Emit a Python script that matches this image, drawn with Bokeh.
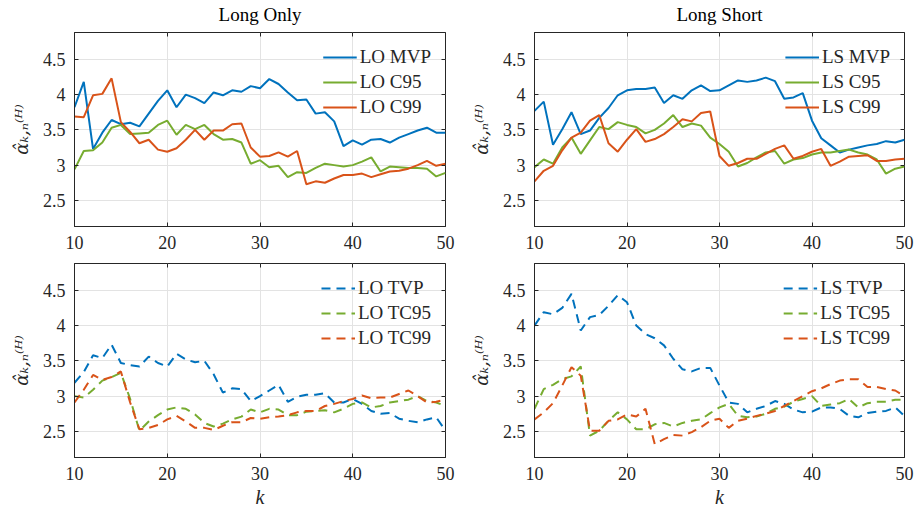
from bokeh.plotting import figure
from bokeh.layouts import column, row
from bokeh.models import (Legend, LegendItem, FixedTicker, NumeralTickFormatter,
                          LinearAxis, Range1d)
from bokeh.embed import file_html
from bokeh.resources import INLINE

k = list(range(10, 51))

lo_mvp = [3.82, 4.18, 3.23, 3.46, 3.64, 3.58, 3.60, 3.55, 3.73, 3.91, 4.06, 3.82, 4.00, 3.95,
          3.88, 4.03, 3.99, 4.06, 4.04, 4.12, 4.09, 4.22, 4.15, 4.03, 3.92, 3.93, 3.73, 3.75,
          3.62, 3.27, 3.35, 3.29, 3.36, 3.37, 3.32, 3.39, 3.44, 3.49, 3.53, 3.46, 3.46]
lo_c95 = [2.94, 3.20, 3.21, 3.32, 3.53, 3.57, 3.44, 3.45, 3.46, 3.57, 3.63, 3.43, 3.57, 3.51,
          3.57, 3.44, 3.36, 3.37, 3.32, 3.02, 3.07, 2.97, 2.99, 2.83, 2.90, 2.89, 2.96, 3.02,
          3.00, 2.98, 3.00, 3.05, 3.11, 2.91, 2.98, 2.97, 2.96, 2.96, 2.95, 2.84, 2.89]
lo_c99 = [3.69, 3.68, 3.99, 4.01, 4.23, 3.61, 3.47, 3.31, 3.36, 3.22, 3.19, 3.24, 3.36, 3.50,
          3.36, 3.49, 3.49, 3.58, 3.59, 3.25, 3.12, 3.13, 3.18, 3.12, 3.20, 2.73, 2.77, 2.75,
          2.81, 2.86, 2.86, 2.88, 2.83, 2.87, 2.91, 2.92, 2.95, 3.00, 3.06, 2.99, 3.02]

ls_mvp = [3.77, 3.90, 3.29, 3.51, 3.75, 3.44, 3.49, 3.67, 3.81, 3.99, 4.06, 4.08, 4.08, 4.10,
          3.88, 3.99, 3.94, 4.06, 4.13, 4.05, 4.06, 4.13, 4.20, 4.18, 4.20, 4.24, 4.19, 3.94,
          3.96, 4.02, 3.63, 3.38, 3.28, 3.18, 3.22, 3.25, 3.28, 3.30, 3.34, 3.32, 3.36]
ls_c95 = [2.97, 3.08, 3.02, 3.25, 3.39, 3.16, 3.35, 3.54, 3.51, 3.61, 3.57, 3.54, 3.45, 3.50,
          3.59, 3.71, 3.54, 3.59, 3.56, 3.39, 3.30, 3.19, 2.98, 3.03, 3.11, 3.18, 3.20, 3.02,
          3.08, 3.10, 3.15, 3.18, 3.18, 3.20, 3.22, 3.18, 3.15, 3.08, 2.88, 2.95, 2.98]
ls_c99 = [2.77, 2.92, 2.99, 3.21, 3.39, 3.46, 3.63, 3.71, 3.31, 3.19, 3.36, 3.51, 3.33, 3.37,
          3.44, 3.54, 3.65, 3.62, 3.74, 3.76, 3.13, 2.99, 3.03, 3.09, 3.09, 3.16, 3.23, 3.28,
          3.09, 3.13, 3.19, 3.23, 2.99, 3.05, 3.12, 3.13, 3.14, 3.06, 3.06, 3.08, 3.09]

lo_tvp = [3.19, 3.34, 3.58, 3.54, 3.73, 3.47, 3.44, 3.42, 3.56, 3.47, 3.42, 3.60, 3.52, 3.48,
          3.50, 3.31, 3.05, 3.11, 3.10, 2.93, 3.00, 3.08, 3.16, 2.92, 2.99, 3.02, 3.02, 3.04,
          2.91, 2.91, 2.96, 2.89, 2.79, 2.75, 2.76, 2.68, 2.65, 2.63, 2.67, 2.70, 2.51]
lo_tc95 = [3.00, 2.98, 3.09, 3.22, 3.27, 3.33, 2.96, 2.51, 2.64, 2.73, 2.81, 2.84, 2.82, 2.74,
           2.62, 2.57, 2.61, 2.67, 2.71, 2.81, 2.77, 2.82, 2.81, 2.73, 2.73, 2.78, 2.79, 2.80,
           2.77, 2.82, 2.89, 2.91, 2.84, 2.86, 2.91, 2.93, 2.95, 3.00, 2.93, 2.91, 2.86]
lo_tc99 = [2.91, 3.09, 3.30, 3.23, 3.27, 3.35, 2.91, 2.53, 2.55, 2.59, 2.67, 2.72, 2.64, 2.55,
           2.55, 2.52, 2.58, 2.63, 2.63, 2.69, 2.68, 2.70, 2.71, 2.73, 2.77, 2.79, 2.79, 2.86,
           2.89, 2.93, 2.96, 3.01, 2.97, 2.98, 2.98, 3.03, 3.08, 3.00, 2.91, 2.92, 2.95]

ls_tvp = [4.00, 4.19, 4.16, 4.25, 4.45, 3.93, 4.12, 4.15, 4.28, 4.43, 4.33, 4.00, 3.88, 3.82,
          3.72, 3.53, 3.38, 3.35, 3.40, 3.40, 3.15, 2.91, 2.89, 2.77, 2.82, 2.86, 2.93, 2.89,
          2.81, 2.77, 2.78, 2.84, 2.84, 2.82, 2.72, 2.70, 2.76, 2.78, 2.79, 2.84, 2.72]
ls_tc95 = [2.82, 3.10, 3.16, 3.24, 3.28, 3.42, 2.44, 2.51, 2.65, 2.77, 2.67, 2.53, 2.53, 2.60,
           2.62, 2.57, 2.62, 2.65, 2.67, 2.76, 2.84, 2.89, 2.72, 2.70, 2.71, 2.75, 2.82, 2.85,
           2.92, 2.96, 3.00, 2.86, 2.88, 2.90, 2.96, 2.84, 2.90, 2.92, 2.92, 2.95, 2.95]
ls_tc99 = [2.67, 2.77, 2.90, 3.15, 3.41, 3.29, 2.51, 2.51, 2.65, 2.67, 2.74, 2.71, 2.82, 2.32,
           2.39, 2.45, 2.44, 2.49, 2.56, 2.65, 2.68, 2.55, 2.65, 2.68, 2.72, 2.75, 2.79, 2.86,
           2.93, 3.00, 3.07, 3.11, 3.17, 3.22, 3.24, 3.24, 3.13, 3.13, 3.10, 3.08, 3.00]

x_ticks = [10, 20, 30, 40, 50]
y_ticks = [2.5, 3, 3.5, 4, 4.5]
titles = ["Long Only", "Long Short"]
YLABEL = "α̂ₖ,ₙ⁽ᴴ⁾"

BLUE, GREEN, RED = "#0072BD", "#77AC30", "#D95319"
FONT = "Liberation Serif"
AX = "#262626"


def panel(series, names, dash, title, xlabel, fw, right, top, bottom):
    p = figure(frame_width=fw, frame_height=194,
               x_range=Range1d(10, 50), y_range=Range1d(2.13, 4.88),
               output_backend="svg", toolbar_location=None,
               min_border_left=74, min_border_right=right,
               min_border_top=top, min_border_bottom=bottom,
               background_fill_color="white", border_fill_color="white",
               outline_line_color=AX, outline_line_width=1)
    items = []
    for ys, nm, col in zip(series, names, [BLUE, GREEN, RED]):
        r = p.line(k, ys, line_color=col, line_width=2,
                   line_dash=("9 6" if dash else "solid"))
        items.append(LegendItem(label=nm, renderers=[r]))
    leg = Legend(items=items, location="top_right",
                 background_fill_alpha=0, border_line_alpha=0,
                 label_text_font=FONT, label_text_font_size="19px",
                 label_text_color=AX, glyph_width=34, glyph_height=20,
                 label_height=20, spacing=3, padding=6, margin=8, label_standoff=3)
    p.add_layout(leg)
    for ax in (p.xaxis[0], p.yaxis[0]):
        ax.major_label_text_font = FONT
        ax.major_label_text_font_size = "18px"
        ax.major_label_text_color = AX
        ax.axis_line_color = AX
        ax.major_tick_line_color = AX
        ax.major_tick_in = 4
        ax.major_tick_out = 0
        ax.minor_tick_line_color = None
        ax.major_label_standoff = 9
        ax.axis_label_text_font = FONT
        ax.axis_label_text_color = AX
    p.xaxis[0].ticker = FixedTicker(ticks=x_ticks)
    p.yaxis[0].ticker = FixedTicker(ticks=y_ticks)
    p.yaxis[0].formatter = NumeralTickFormatter(format="0.[0]")
    p.yaxis[0].axis_label = YLABEL
    p.yaxis[0].axis_label_text_font = "DejaVu Serif"
    p.yaxis[0].axis_label_text_font_size = "18px"
    p.yaxis[0].axis_label_text_font_style = "italic"
    p.yaxis[0].axis_label_standoff = 8
    if xlabel:
        p.xaxis[0].axis_label = "k"
        p.xaxis[0].axis_label_text_font_size = "20px"
        p.xaxis[0].axis_label_text_font_style = "italic"
        p.xaxis[0].axis_label_standoff = 3
    # mirrored tick marks on the top and right edges (box on); the top one carries the title
    for loc, tk in (("above", x_ticks), ("right", y_ticks)):
        a = LinearAxis(ticker=FixedTicker(ticks=tk), major_label_text_font_size="1px",
                       major_label_text_color=None, major_label_standoff=0,
                       major_tick_in=4, major_tick_out=0,
                       major_tick_line_color=AX, axis_line_color=None,
                       minor_tick_line_color=None)
        if loc == "above" and title:
            a.axis_label = title
            a.axis_label_text_font = FONT
            a.axis_label_text_font_size = "19px"
            a.axis_label_text_font_style = "normal"
            a.axis_label_text_color = "#000000"
            a.axis_label_standoff = 8
        p.add_layout(a, loc)
    p.xgrid.ticker = FixedTicker(ticks=x_ticks)
    p.ygrid.ticker = FixedTicker(ticks=y_ticks)
    p.xgrid.grid_line_color = "#e3e3e3"
    p.ygrid.grid_line_color = "#e3e3e3"
    return p


p1 = panel([lo_mvp, lo_c95, lo_c99], ["LO MVP", "LO C95", "LO C99"], False,
           titles[0], False, 371, 15, 31, 27)
p2 = panel([ls_mvp, ls_c95, ls_c99], ["LS MVP", "LS C95", "LS C99"], False,
           titles[1], False, 370, 17, 31, 27)
p3 = panel([lo_tvp, lo_tc95, lo_tc99], ["LO TVP", "LO TC95", "LO TC99"], True,
           None, True, 371, 15, 10, 57)
p4 = panel([ls_tvp, ls_tc95, ls_tc99], ["LS TVP", "LS TC95", "LS TC99"], True,
           None, True, 370, 17, 10, 57)

layout = column(row(p1, p2), row(p3, p4))
open("out.html", "w").write(file_html(layout, INLINE))
